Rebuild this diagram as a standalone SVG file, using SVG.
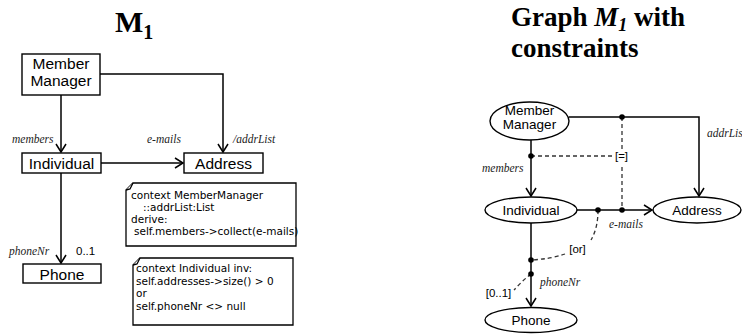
<svg xmlns="http://www.w3.org/2000/svg" width="742" height="334" viewBox="0 0 742 334">
  <style>
    .box { fill: #fff; stroke: #000; stroke-width: 1.4; }
    .node-t { font-family: "Liberation Sans", Arial, sans-serif; font-size: 15.5px; fill: #000; text-anchor: middle; }
    .node-s { font-family: "Liberation Sans", Arial, sans-serif; font-size: 13.5px; fill: #000; text-anchor: middle; }
    .role { font-family: "Liberation Serif", "Times New Roman", serif; font-style: italic; font-size: 11.5px; fill: #222; }
    .mult { font-family: "Liberation Sans", Arial, sans-serif; font-size: 11.5px; fill: #000; }
    .edge { fill: none; stroke: #000; stroke-width: 1.5; }
    .cons { fill: none; stroke: #333; stroke-width: 1.3; stroke-dasharray: 4 3; }
    .dot { fill: #000; }
    .note { fill: #fff; stroke: #000; stroke-width: 1.3; }
    .ocl { font-family: "DejaVu Sans", Verdana, sans-serif; font-size: 10.5px; fill: #000; }
    .title { font-family: "Liberation Serif", "Times New Roman", serif; font-weight: bold; fill: #000; }
  </style>
  <defs>
    <marker id="open" viewBox="-10 -6 12 12" refX="0" refY="0" markerWidth="12" markerHeight="12" markerUnits="userSpaceOnUse" orient="auto">
      <path d="M-8,-5 L0,0 L-8,5" fill="none" stroke="#000" stroke-width="1.5"/>
    </marker>
  </defs>

  <!-- class diagram titles -->
  <text class="title" x="115" y="32" font-size="30">M<tspan font-size="20" dy="7">1</tspan></text>
  <text class="title" x="511" y="26" font-size="27">Graph <tspan font-style="italic">M</tspan><tspan font-style="italic" font-size="18" dy="5">1</tspan><tspan dy="-5"> with</tspan></text>
  <text class="title" x="511" y="57" font-size="27">constraints</text>

  <!-- UML class diagram: connectors -->
  <g id="uml-edges">
    <path class="edge" d="M61,95 V152" marker-end="url(#open)"/>
    <path class="edge" d="M100,74 H223 V152" marker-end="url(#open)"/>
    <path class="edge" d="M101,163 H183" marker-end="url(#open)"/>
    <path class="edge" d="M61,173 V263" marker-end="url(#open)"/>
    <text class="role" x="12" y="143">members</text>
    <text class="role" x="147" y="143">e-mails</text>
    <text class="role" x="233" y="143">/addrList</text>
    <text class="role" x="9" y="255">phoneNr</text>
    <text class="mult" x="76" y="255">0..1</text>
  </g>

  <!-- UML class diagram: classes -->
  <g id="uml-membermanager">
    <rect class="box" x="22" y="54" width="78" height="41"/>
    <text class="node-t" x="61" y="69">Member</text>
    <text class="node-t" x="61" y="86">Manager</text>
  </g>
  <g id="uml-individual">
    <rect class="box" x="22" y="153" width="79" height="20"/>
    <text class="node-t" x="61.5" y="168.5">Individual</text>
  </g>
  <g id="uml-address">
    <rect class="box" x="184" y="153" width="79" height="20"/>
    <text class="node-t" x="223.5" y="168.5">Address</text>
  </g>
  <g id="uml-phone">
    <rect class="box" x="23" y="264" width="78" height="19"/>
    <text class="node-t" x="62" y="279.5">Phone</text>
  </g>

  <!-- OCL notes -->
  <g id="note-derive">
    <path class="note" d="M133,183 H296 V246 H126 V190 Z"/>
    <path class="note" d="M133,183 Q131,187 130,189 L126,190"/>
    <text class="ocl" x="131" y="199">context MemberManager</text>
    <text class="ocl" x="143" y="211">::addrList:List</text>
    <text class="ocl" x="131" y="223">derive:</text>
    <text class="ocl" x="134" y="235">self.members-&gt;collect(e-mails)</text>
  </g>
  <g id="note-inv">
    <path class="note" d="M140,258 H293 V325 H133 V265 Z"/>
    <path class="note" d="M140,258 Q138,262 137,264 L133,265"/>
    <text class="ocl" x="136" y="272">context Individual inv:</text>
    <text class="ocl" x="136" y="285">self.addresses-&gt;size() &gt; 0</text>
    <text class="ocl" x="136" y="297">or</text>
    <text class="ocl" x="136" y="310">self.phoneNr &lt;&gt; null</text>
  </g>

  <!-- graph with constraints: connectors -->
  <g id="graph-edges">
    <path class="edge" d="M531,140 V196" marker-end="url(#open)"/>
    <path class="edge" d="M569,117 H699 V196" marker-end="url(#open)"/>
    <path class="edge" d="M577,210 H652" marker-end="url(#open)"/>
    <path class="edge" d="M531,223 V306" marker-end="url(#open)"/>
    <text class="role" x="482" y="172">members</text>
    <text class="role" x="707" y="137">addrList</text>
    <text class="role" x="609" y="228">e-mails</text>
    <text class="role" x="540" y="286">phoneNr</text>
  </g>

  <!-- graph with constraints: constraint links -->
  <g id="graph-constraints">
    <path class="cons" d="M622,117 V150"/>
    <path class="cons" d="M622,167 V210"/>
    <path class="cons" d="M531,156 H613"/>
    <text class="mult" x="621.5" y="160" text-anchor="middle">[=]</text>
    <path class="cons" d="M598,210 C598,222 596,231 591,240"/>
    <text class="mult" x="577.5" y="253" text-anchor="middle">[or]</text>
    <path class="cons" d="M565,254 Q551,259 531,260"/>
    <path class="cons" d="M531,274 Q522,281 514,290"/>
    <text class="mult" x="498.5" y="297" text-anchor="middle">[0..1]</text>
    <circle class="dot" cx="622" cy="117" r="2.8"/>
    <circle class="dot" cx="531" cy="156" r="2.8"/>
    <circle class="dot" cx="598" cy="210" r="2.8"/>
    <circle class="dot" cx="622" cy="210" r="2.8"/>
    <circle class="dot" cx="531" cy="260" r="2.8"/>
    <circle class="dot" cx="531" cy="274" r="2.8"/>
  </g>

  <!-- graph with constraints: nodes -->
  <g id="g-membermanager">
    <ellipse class="box" cx="529.5" cy="121" rx="39.5" ry="19"/>
    <text class="node-s" x="529.5" y="115">Member</text>
    <text class="node-s" x="529.5" y="129">Manager</text>
  </g>
  <g id="g-individual">
    <ellipse class="box" cx="531" cy="210" rx="46" ry="13"/>
    <text class="node-s" x="531" y="215">Individual</text>
  </g>
  <g id="g-address">
    <ellipse class="box" cx="697" cy="210" rx="44" ry="13"/>
    <text class="node-s" x="697" y="215">Address</text>
  </g>
  <g id="g-phone">
    <ellipse class="box" cx="531" cy="320" rx="46" ry="12.5"/>
    <text class="node-s" x="531" y="325">Phone</text>
  </g>
</svg>
